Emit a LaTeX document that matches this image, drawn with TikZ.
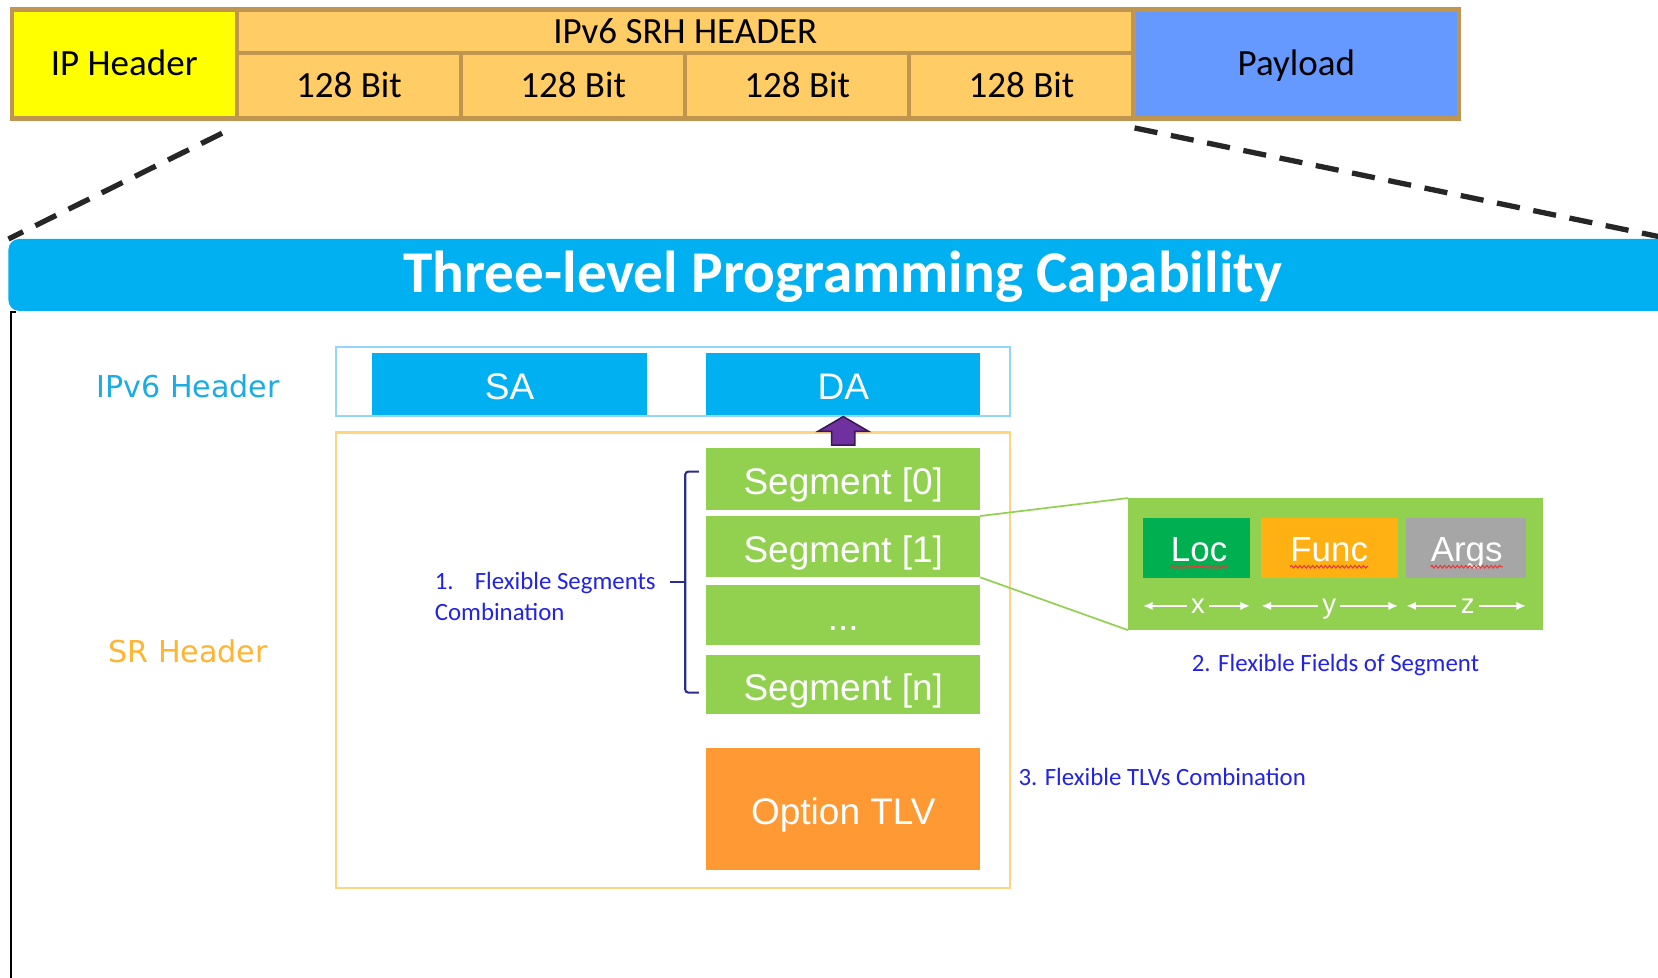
\documentclass[tikz,border=0pt]{standalone}
\usepackage{fontspec}
\setmainfont{Carlito}
\newfontfamily\arialf{Liberation Sans}
\newfontfamily\verdf{DejaVu Sans}
\usetikzlibrary{calc,decorations.pathmorphing,arrows.meta}

\definecolor{barTan}{RGB}{191,149,80}
\definecolor{srhFill}{RGB}{255,204,102}
\definecolor{ipYellow}{RGB}{255,255,0}
\definecolor{payBlue}{RGB}{102,153,255}
\definecolor{dashGray}{RGB}{38,38,38}
\definecolor{bannerBlue}{RGB}{0,176,240}
\definecolor{ipvLabel}{RGB}{28,172,228}
\definecolor{srLabel}{RGB}{255,180,50}
\definecolor{ipvLine}{RGB}{150,214,245}
\definecolor{srLine}{RGB}{255,213,130}
\definecolor{arrowPurple}{RGB}{112,48,160}
\definecolor{arrowEdge}{RGB}{55,25,85}
\definecolor{segGreen}{RGB}{146,208,80}
\definecolor{tlvOrange}{RGB}{255,153,51}
\definecolor{locGreen}{RGB}{0,176,80}
\definecolor{funcAmber}{RGB}{255,176,19}
\definecolor{argsGray}{RGB}{166,166,166}
\definecolor{noteBlue}{RGB}{35,35,230}
\definecolor{braceNavy}{RGB}{45,45,140}
\definecolor{spellRed}{RGB}{225,60,60}

\begin{document}
\begin{tikzpicture}[x=1pt,y=-1pt,
  box/.style={anchor=north west, inner sep=0pt, outer sep=0pt},
  barcell/.style={box, font=\fontsize{35}{40}\selectfont, text=black, text height=22.5pt, text depth=0pt},
  whitecell/.style={box, font=\arialf\fontsize{35}{40}\selectfont, text=white, text height=30pt, text depth=0pt},
  sidelabel/.style={font=\verdf\fontsize{28.5}{32}\selectfont, inner sep=0pt},
  note/.style={font=\fontsize{23.5}{30}\selectfont, text=noteBlue, inner sep=0pt},
  zoomdash/.style={dashGray, line width=5pt, dash pattern=on 22pt off 13pt},
  zoomline/.style={segGreen, line width=1.6pt},
  fieldtxt/.style={font=\arialf\fontsize{33}{38}\selectfont, text=white, inner sep=0pt, text height=24pt, text depth=0pt},
  sizeletter/.style={font=\arialf\fontsize{26}{30}\selectfont, text=white, inner sep=4pt, text height=13.5pt, text depth=0pt},
  sizearrow/.style={white, line width=1.8pt, -{Latex[length=9pt,width=8pt]}},
  squiggle/.style={spellRed, line width=1pt, decorate, decoration={snake, segment length=4pt, amplitude=1.2pt}},
  bracket/.style={braceNavy, line width=2pt},
]
\clip (0,0) rectangle (1568,924);
\fill[white] (0,0) rectangle (1568,924);

% ---------- packet bar ----------
\fill[barTan] (9,7) rectangle (1382,114);
\node[barcell, fill=ipYellow, minimum width=209pt, minimum height=99pt] (iphdr) at (13,11) {IP Header};
\node[barcell, fill=srhFill, minimum width=844pt, minimum height=37pt] (srh) at (226,11) {IPv6 SRH HEADER};
\node[barcell, fill=srhFill, minimum width=208pt, minimum height=58pt] (b1) at (226,52) {128 Bit};
\node[barcell, fill=srhFill, minimum width=208pt, minimum height=58pt] (b2) at (438,52) {128 Bit};
\node[barcell, fill=srhFill, minimum width=208pt, minimum height=58pt] (b3) at (650,52) {128 Bit};
\node[barcell, fill=srhFill, minimum width=208pt, minimum height=58pt] (b4) at (862,52) {128 Bit};
\node[barcell, fill=payBlue, minimum width=304pt, minimum height=99pt] (payload) at (1074,11) {Payload};

% ---------- zoom-in guides ----------
\coordinate (dl1) at (210,126);
\coordinate (dl2) at (8,226);
\coordinate (dr1) at (1073,121);
\coordinate (dr2) at (1570,224);
\draw[zoomdash] (dl1) -- (dl2);
\draw[zoomdash] (dr1) -- (dr2);

% ---------- title banner ----------
\fill[bannerBlue, rounded corners=10pt] (8,226) rectangle (1640,294);
\node[font=\bfseries\fontsize{56}{60}\selectfont, text=white, inner sep=0pt] (title) at (797,262) {Three-level Programming Capability};
\draw[black, line width=2pt] (15,295) -- (10,295) -- (10,930);

% ---------- side labels ----------
\node[sidelabel, text=ipvLabel] (ipvlab) at (178,365) {IPv6 Header};
\node[sidelabel, text=srLabel] (srlab) at (178,616) {SR Header};

% ---------- IPv6 header ----------
\node[box, draw=ipvLine, line width=2pt, minimum width=637pt, minimum height=65pt] (ipv6box) at (318,328) {};
\node[whitecell, fill=bannerBlue, minimum width=260pt, minimum height=58pt] (sa) at (352,334) {SA};
\node[whitecell, fill=bannerBlue, minimum width=259pt, minimum height=58pt] (da) at (668,334) {DA};

% ---------- SR header ----------
\node[box, draw=srLine, line width=2pt, minimum width=637pt, minimum height=431pt] (srbox) at (318,409) {};
\node[whitecell, fill=segGreen, minimum width=259pt, minimum height=58pt] (seg0) at (668,424) {Segment [0]};
\node[whitecell, fill=segGreen, minimum width=259pt, minimum height=58pt] (seg1) at (668,488) {Segment [1]};
\node[whitecell, fill=segGreen, minimum width=259pt, minimum height=57pt] (segdots) at (668,553) {...};
\node[whitecell, fill=segGreen, minimum width=259pt, minimum height=56pt] (segn) at (668,619) {Segment [n]};
\node[whitecell, fill=tlvOrange, minimum width=259pt, minimum height=116pt] (tlv) at (668,707) {Option TLV};

% active segment copied into DA
\filldraw[fill=arrowPurple, draw=arrowEdge, line width=1.5pt]
  ($(seg0.north)+(-11,-3)$) -- ++(0,-13) -- ++(-13,0) -- ($(da.south)+(0,2)$)
  -- ++(24,14) -- ++(-13,0) -- ++(0,13) -- cycle;

% segment list brace and note
\node[note, anchor=west, align=left] (fseg) at (411,564) {1.\hspace{20pt}Flexible Segments\\Combination};
\draw[bracket, rounded corners=3pt] (661,446) -- (648,446) -- (648,655) -- (661,655);
\draw[bracket] (648,550) -- (634,550);

% ---------- segment fields ----------
\node[box, fill=segGreen, minimum width=392pt, minimum height=125pt] (fields) at (1067,471) {};
\draw[zoomline] (seg1.north east) -- (fields.north west);
\draw[zoomline] (seg1.south east) -- (fields.south west);
\node[box, fill=locGreen, minimum width=101pt, minimum height=57pt] (loc) at (1081,490) {};
\node[box, fill=funcAmber, minimum width=129pt, minimum height=57pt] (func) at (1193,490) {};
\node[box, fill=argsGray, minimum width=113pt, minimum height=57pt] (args) at (1330,490) {};
\node[fieldtxt] (loct) at (1134,519) {Loc};
\node[fieldtxt] (funct) at (1257,519) {Func};
\node[fieldtxt] (argst) at (1387,519) {Args};
\foreach \t in {loct,funct,argst}
  \draw[squiggle] ($(\t.base west)+(0,5)$) -- ($(\t.base east)+(0,5)$);

\node[sizeletter] (lx) at (1133,573) {x};
\node[sizeletter] (ly) at (1257,573) {y};
\node[sizeletter] (lz) at (1388,573) {z};
\draw[sizearrow] (lx.west) -- (lx.west -| loc.west);
\draw[sizearrow] (lx.east) -- (lx.east -| loc.east);
\draw[sizearrow] (ly.west) -- (ly.west -| func.west);
\draw[sizearrow] (ly.east) -- (ly.east -| func.east);
\draw[sizearrow] (lz.west) -- (lz.west -| args.west);
\draw[sizearrow] (lz.east) -- (lz.east -| args.east);

\node[note] (ffields) at (1263,629) {2. Flexible Fields of Segment};
\node[note, anchor=west] (ftlv) at (963,735) {3. Flexible TLVs Combination};
\end{tikzpicture}
\end{document}
